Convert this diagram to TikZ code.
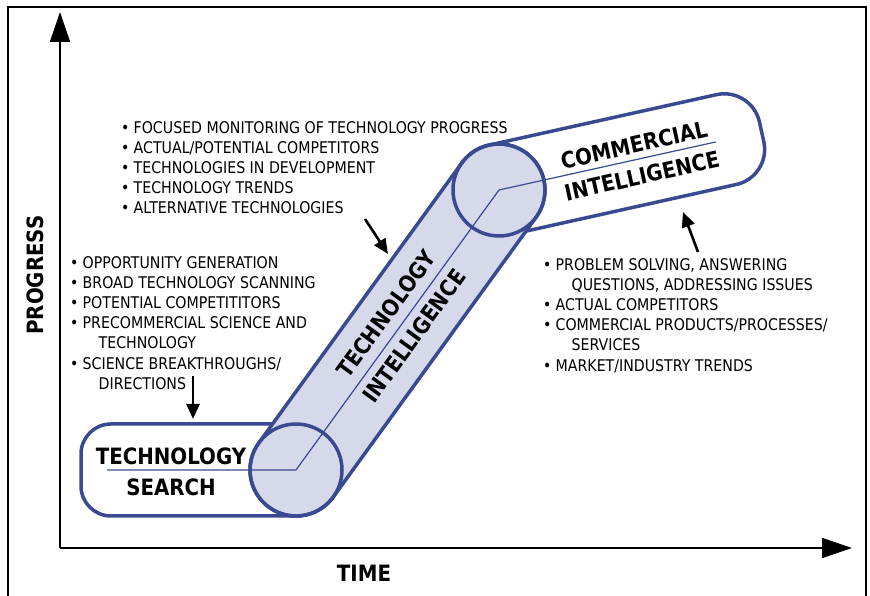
\documentclass[tikz,border=0pt]{standalone}
\usepackage{fontspec}
\setmainfont{DejaVu Sans}[FakeStretch=0.88]
\usetikzlibrary{arrows.meta,calc}
\definecolor{tubeblue}{RGB}{58,74,145}
\definecolor{lav}{RGB}{213,217,234}
\newcommand{\bl}{\makebox[12.5pt][l]{•}}
\newcommand{\cont}{\hspace*{28.5pt}}
\begin{document}
\begin{tikzpicture}[x=1pt,y=1pt,
  outl/.style={draw=tubeblue,line width=3.5pt},
  ctr/.style={draw=tubeblue,line width=1.2pt},
  axisarrow/.style={line width=1.6pt,-{Triangle[length=30pt,width=20pt]}},
  ptr/.style={line width=2.6pt,-{Triangle[length=15pt,width=13pt]}},
  title/.style={font=\fontsize{22.5}{26}\selectfont\bfseries, inner sep=0},
  blist/.style={font=\fontsize{16.1}{20.2}\selectfont, align=left, inner sep=0, anchor=north west}]
\useasboundingbox (0,0) rectangle (870,596);
% frame
\draw[line width=2pt] (8,0) -- (8,589) -- (866,589) -- (866,0);
% axes
\coordinate (O) at (60,48);
\coordinate (ytip) at (60,584);
\coordinate (xtip) at (852,48);
\draw[axisarrow] (O) -- (ytip);
\draw[axisarrow] (O) -- (xtip);
% key points
\coordinate (A) at (296,126);
\coordinate (B) at (499,406);
\coordinate (sl) at (107,126);
% commercial capsule
\begin{scope}[shift={(B)},rotate=12.5]
  \filldraw[fill=white,outl] (0,46) -- (233,46) arc[start angle=90,end angle=0,radius=36]
    -- (269,-10) arc[start angle=0,end angle=-90,radius=36] -- (0,-46)
    arc[start angle=270,end angle=90,radius=46] -- cycle;
  \coordinate (cl) at (222,0);
\end{scope}
% search capsule
\filldraw[fill=white,outl] (296,172) -- (111,172) arc[start angle=90,end angle=180,radius=30]
  -- (81,110) arc[start angle=180,end angle=270,radius=30] -- (296,80)
  arc[start angle=-90,end angle=90,radius=46] -- cycle;
% tube
\filldraw[fill=lav,outl] ($(A)+(144:46)$) -- ($(B)+(144:46)$) arc[start angle=144,end angle=-36,radius=46]
  -- ($(A)+(-36:46)$) arc[start angle=-36,end angle=-216,radius=46] -- cycle;
\draw[outl] (A) circle[radius=46];
\draw[outl] (B) circle[radius=46];
% centre line
\draw[ctr] (sl) -- (A) -- (B) -- (cl);
% titles
\node[title] (ts1) at (171,140) {TECHNOLOGY};
\node[title] (ts2) at (171,109) {SEARCH};
\node[title,rotate=54] (ti1) at (386,282) {TECHNOLOGY};
\node[title,rotate=54] (ti2) at (414,260) {INTELLIGENCE};
\node[title,rotate=12.5] (ci1) at (634,451) {COMMERCIAL};
\node[title,rotate=12.5] (ci2) at (642,420) {INTELLIGENCE};
\node[title,rotate=90] (prog) at (35,321) {PROGRESS};
\node[title] (time) at (364,23) {TIME};
% bullet lists
\node[blist] (b1) at (121,475) {\bl FOCUSED MONITORING OF TECHNOLOGY PROGRESS\\
  \bl ACTUAL/POTENTIAL COMPETITORS\\
  \bl TECHNOLOGIES IN DEVELOPMENT\\
  \bl TECHNOLOGY TRENDS\\
  \bl ALTERNATIVE TECHNOLOGIES};
\node[blist] (b2) at (70,340) {\bl OPPORTUNITY GENERATION\\
  \bl BROAD TECHNOLOGY SCANNING\\
  \bl POTENTIAL COMPETITITORS\\
  \bl PRECOMMERCIAL SCIENCE AND\\
  \cont TECHNOLOGY\\
  \bl SCIENCE BREAKTHROUGHS/\\
  \cont DIRECTIONS};
\node[blist] (b3) at (543,338) {\bl PROBLEM SOLVING, ANSWERING\\
  \cont QUESTIONS, ADDRESSING ISSUES\\
  \bl ACTUAL COMPETITORS\\
  \bl COMMERCIAL PRODUCTS/PROCESSES/\\
  \cont SERVICES\\
  \bl MARKET/INDUSTRY TRENDS};
% pointer arrows
\coordinate (p1s) at (193,220);
\coordinate (p1e) at (193,177);
\coordinate (p2s) at (365,377);
\coordinate (p2e) at (388,342);
\coordinate (p3s) at (698,344);
\coordinate (p3e) at (683,384);
\draw[ptr] (p1s) -- (p1e);
\draw[ptr] (p2s) -- (p2e);
\draw[ptr] (p3s) -- (p3e);
\end{tikzpicture}
\end{document}
